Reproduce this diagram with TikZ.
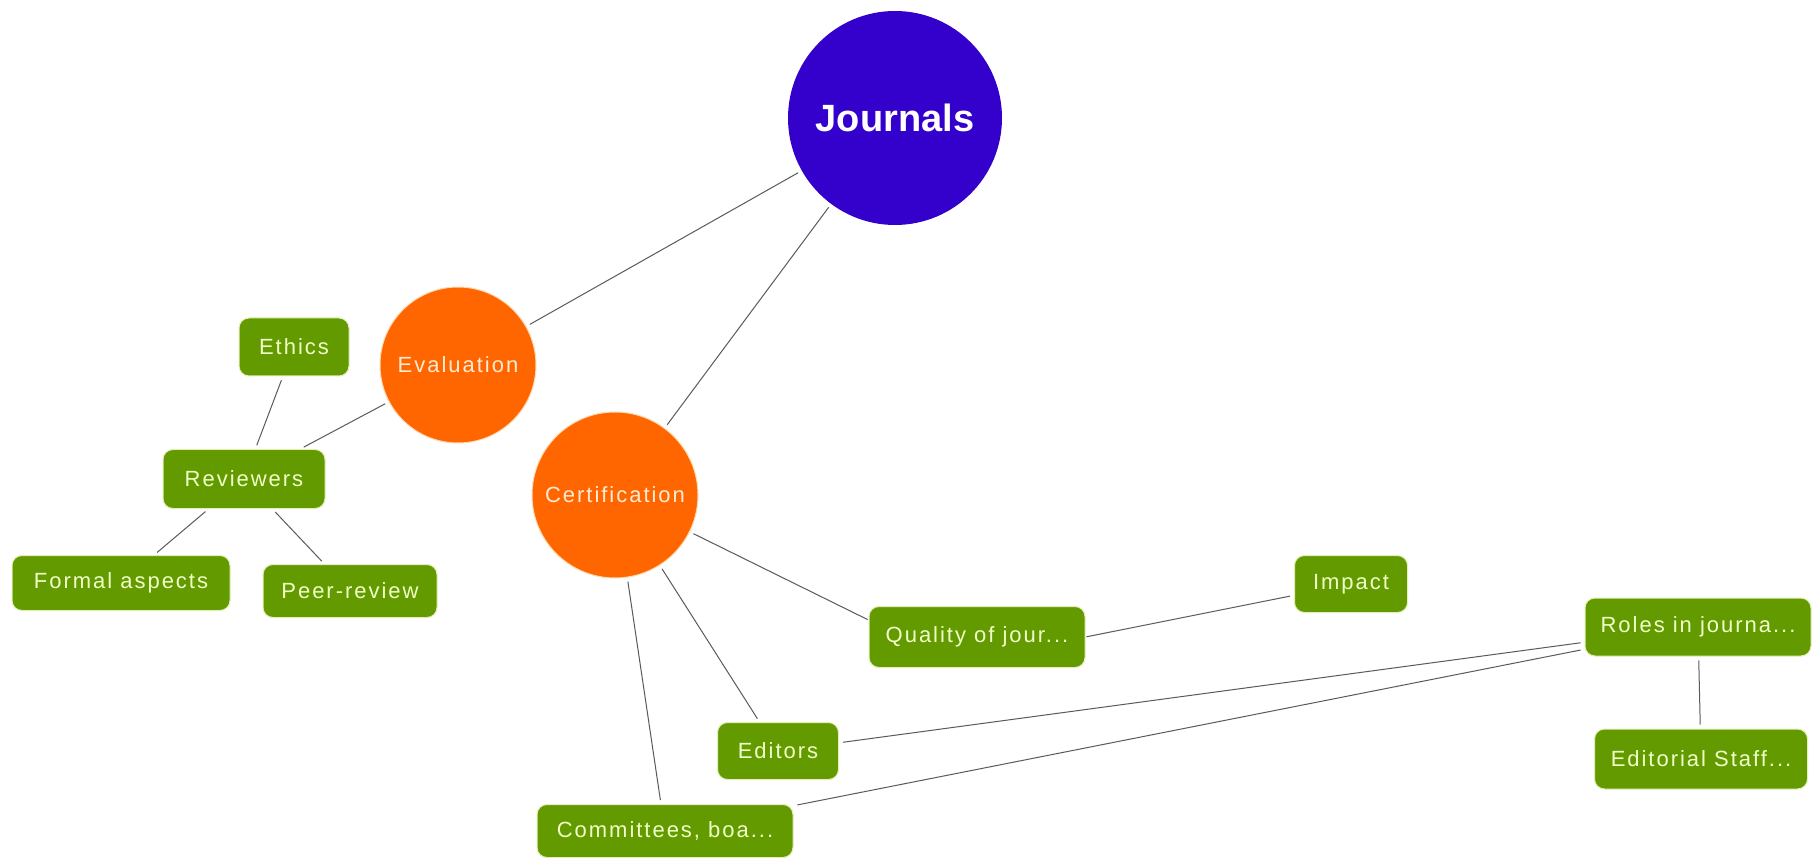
\documentclass[tikz,border=0pt]{standalone}
\usepackage{fontspec}
\setmainfont{Liberation Sans}
\newfontfamily\boxfont[LetterSpace=9]{Liberation Sans}
\definecolor{rootblue}{HTML}{3300CC}
\definecolor{huborange}{HTML}{FF6600}
\definecolor{hubedge}{HTML}{FFD9B0}
\definecolor{hubtext}{HTML}{FFEBD2}
\definecolor{leafgreen}{HTML}{639A00}
\definecolor{leafedge}{HTML}{E4EFB8}
\definecolor{leaftext}{HTML}{F0FFC8}
\definecolor{linegray}{HTML}{5A5A5A}
\tikzset{
  conn/.style={draw=linegray, line width=1pt, shorten <=4pt, shorten >=4pt},
  leaf/.style={rectangle, rounded corners=10pt, fill=leafgreen, draw=leafedge, line width=1pt,
    text=leaftext, inner sep=0pt, font=\boxfont\fontsize{22}{26}\selectfont},
  hub/.style={circle, fill=huborange, draw=hubedge, line width=1pt, inner sep=0pt,
    text=hubtext, font=\boxfont\fontsize{22}{26}\selectfont},
  root/.style={circle, fill=rootblue, inner sep=0pt, text=white,
    font=\bfseries\fontsize{38}{44}\selectfont}
}
\begin{document}
\begin{tikzpicture}[x=1pt,y=-1pt]
\useasboundingbox[fill=white] (0,0) rectangle (1813,858);
% nodes
\node[root, minimum size=214pt] (journals) at (895,118) {Journals};
\node[hub, minimum size=156pt] (evaluation) at (458,365) {Evaluation};
\node[hub, minimum size=166pt] (certification) at (615,495) {Certification};
\node[leaf, minimum width=110pt, minimum height=58pt] (ethics) at (294,347) {Ethics};
\node[leaf, minimum width=162pt, minimum height=59pt] (reviewers) at (244,479) {Reviewers};
\node[leaf, minimum width=218pt, minimum height=55pt] (formal) at (121,583) {Formal aspects};
\node[leaf, minimum width=174pt, minimum height=53pt] (peer) at (350,591) {Peer-review};
\node[leaf, minimum width=216pt, minimum height=61pt] (quality) at (977,637) {Quality of jour...};
\node[leaf, minimum width=113pt, minimum height=57pt] (impact) at (1351,584) {Impact};
\node[leaf, minimum width=121pt, minimum height=57pt] (editors) at (778,751) {Editors};
\node[leaf, minimum width=256pt, minimum height=53pt] (committees) at (665,831) {Committees, boa...};
\node[leaf, minimum width=226pt, minimum height=58pt] (roles) at (1698,627) {Roles in journa...};
\node[leaf, minimum width=213pt, minimum height=60pt] (staff) at (1701,759) {Editorial Staff...};
% connectors
\draw[conn] (journals) -- (evaluation);
\draw[conn] (journals) -- (certification);
\draw[conn] (evaluation) -- (reviewers);
\draw[conn] (ethics) -- (reviewers);
\draw[conn] (reviewers) -- (formal);
\draw[conn] (reviewers) -- (peer);
\draw[conn, shorten >=1pt] (certification) -- ([yshift=17pt]quality.west);
\draw[conn, shorten <=1pt] (quality.east) -- (impact);
\draw[conn] (certification) -- (editors);
\draw[conn] (certification) -- (committees);
\draw[conn] (editors) -- (roles);
\draw[conn] (committees) -- (roles);
\draw[conn] (roles) -- (staff);
\end{tikzpicture}
\end{document}
